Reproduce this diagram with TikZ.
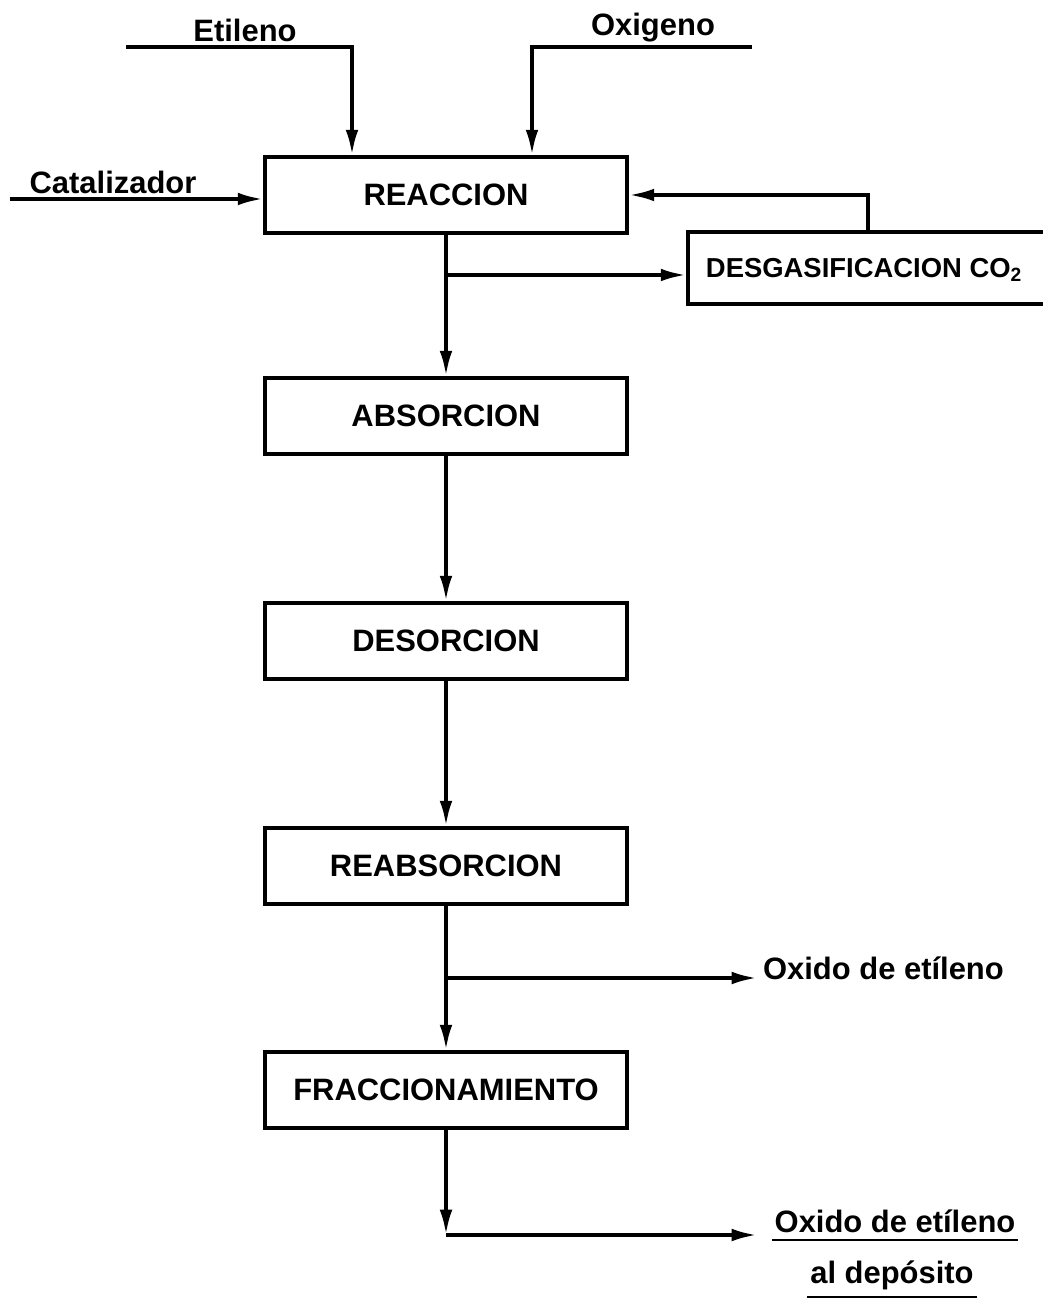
\documentclass[tikz,border=0pt]{standalone}
\usepackage{fontspec}
\setmainfont{Liberation Sans}
\usetikzlibrary{arrows.meta}
\tikzstyle{process} = [rectangle, minimum width=9.05cm, minimum height=1.9cm, draw=black, line width=2.6pt, font=\fontsize{22}{26}\selectfont\bfseries]
\tikzstyle{tag} = [inner sep=2pt, font=\fontsize{22}{26}\selectfont\bfseries]
\tikzstyle{pipe} = [line width=2.6pt]
\tikzstyle{arrow} = [line width=2.6pt,-{Latex[length=18pt,width=9pt]}]

\begin{document}
\begin{tikzpicture}[x=0.025cm,y=-0.025cm]
\useasboundingbox (0,0) rectangle (1043,1312);

% process blocks
\node (reac) [process] at (446,195) {REACCION};
\node (abs) [process] at (446,416) {ABSORCION};
\node (des) [process] at (446,641) {DESORCION};
\node (reabs) [process] at (446,866) {REABSORCION};
\node (frac) [process] at (446,1090) {FRACCIONAMIENTO};
\node (desg) [process, minimum width=9.5cm, minimum height=1.8cm] at (878,268) {};
\node (desgtxt) [font=\fontsize{19.5}{24}\selectfont\bfseries] at (864,270) {DESGASIFICACION CO\textsubscript{2}};

% feeds
\node (etileno) [tag] at (245,30) {Etileno};
\node (oxigeno) [tag] at (653,28) {Oxigeno};
\node (catalizador) [tag] at (113,182) {Catalizador};
\coordinate (etiin) at (126,47);
\coordinate (etibend) at (352,47);
\coordinate (oxiin) at (752,47);
\coordinate (oxibend) at (532,47);
\coordinate (catin) at (10,199);
\draw[arrow] (etiin) -- (etibend) -- (etibend |- reac.north);
\draw[arrow] (oxiin) -- (oxibend) -- (oxibend |- reac.north);
\draw[arrow] (catin) -- (catin -| reac.west);

% CO2 loop
\coordinate (split1) at (446,275);
\coordinate (recyc) at (868,195);
\draw[arrow] (split1) -- (split1 -| desg.west);
\draw[arrow] (recyc |- desg.north) -- (recyc) -- (recyc -| reac.east);

% main line
\draw[arrow] (reac.south) -- (abs.north);
\draw[arrow] (abs.south) -- (des.north);
\draw[arrow] (des.south) -- (reabs.north);
\draw[arrow] (reabs.south) -- (frac.north);

% products
\coordinate (split2) at (446,978);
\coordinate (oxout) at (757,978);
\node (oxido) [tag, anchor=west] at (760,968) {Oxido de etíleno};
\draw[arrow] (split2) -- (oxout);

\coordinate (corner) at (446,1235);
\coordinate (depout) at (757,1235);
\node (oxdep) [tag] at (895,1221) {Oxido de etíleno};
\node (aldep) [tag] at (892,1275) {al depósito};
\draw[arrow] (frac.south) -- (corner);
\draw[arrow] (corner) -- (depout);
\draw[pipe, line width=1.8pt] ([yshift=-3pt]oxdep.south west) -- ([yshift=-3pt]oxdep.south east);
\draw[pipe, line width=1.8pt] ([yshift=-3pt]aldep.south west) -- ([yshift=-3pt]aldep.south east);
\end{tikzpicture}
\end{document}
